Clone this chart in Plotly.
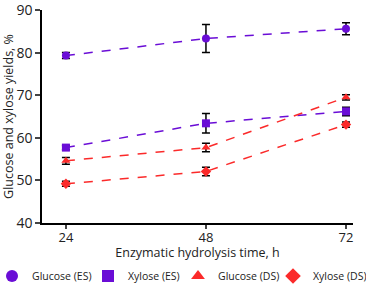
import plotly.graph_objects as go

time_h = [24, 48, 72]
glucose_es = [79.3, 83.3, 85.6]
glucose_es_err = [0.7, 3.3, 1.4]
xylose_es = [57.7, 63.4, 66.2]
xylose_es_err = [0.5, 2.3, 1.0]
glucose_ds = [54.6, 57.7, 69.5]
glucose_ds_err = [0.8, 1.0, 0.6]
xylose_ds = [49.2, 52.1, 63.1]
xylose_ds_err = [0.6, 1.0, 0.6]
y_ticks = [40, 50, 60, 70, 80, 90]

PURPLE = "#6a0dd6"
RED = "#fb2a2a"

series = [
    ("Glucose (ES)", glucose_es, glucose_es_err, PURPLE, "circle", 12),
    ("Xylose (ES)", xylose_es, xylose_es_err, PURPLE, "square", 108),
    ("Glucose (DS)", glucose_ds, glucose_ds_err, RED, "triangle-up", 198),
    ("Xylose (DS)", xylose_ds, xylose_ds_err, RED, "diamond", 293),
]

W, H = 366, 288
ML, MR = 42, 13
PW = W - ML - MR
fig = go.Figure()
for name, vals, errs, col, sym, _ in series:
    fig.add_trace(go.Scatter(
        x=time_h, y=vals, mode="lines+markers", name=name, showlegend=False,
        line=dict(color=col, width=1.5, dash="dash"),
        marker=dict(symbol=sym, size=8, color=col),
        error_y=dict(type="data", array=errs, visible=True, color="black",
                     thickness=1.5, width=4),
    ))

legend_layout = {}
for i, (name, vals, errs, col, sym, lx) in enumerate(series):
    key = "legend" if i == 0 else f"legend{i+1}"
    fig.add_trace(go.Scatter(
        x=[None], y=[None], mode="markers", name=name, showlegend=True,
        legend=key,
        marker=dict(symbol=sym, size=12, color=col),
    ))
    legend_layout[key] = dict(
        orientation="h", xref="paper", yref="container",
        x=(lx - 20 - ML) / PW, xanchor="left", y=(H - 276) / H, yanchor="middle",
        font=dict(size=10.5), itemsizing="trace", bgcolor="rgba(0,0,0,0)",
    )

fig.update_layout(
    width=W, height=H,
    margin=dict(l=ML, r=MR, t=10, b=65, autoexpand=False),
    paper_bgcolor="white", plot_bgcolor="white",
    font=dict(family="Open Sans", color="#222"),
    showlegend=True,
    xaxis=dict(range=[19.9, 73.2], tickvals=time_h, ticks="outside", ticklen=4,
               tickwidth=1.5, showline=True, linecolor="black", linewidth=1.5,
               showgrid=False, zeroline=False, tickfont=dict(size=13), automargin=True,
               ticklabeloverflow="allow", ticklabelstandoff=-2,
               title=dict(text="Enzymatic hydrolysis time, h", font=dict(size=12.5), standoff=5)),
    yaxis=dict(range=[40, 90], tickvals=y_ticks, ticks="outside", ticklen=5,
               tickwidth=1.5, showline=True, linecolor="black", linewidth=1.5,
               showgrid=False, zeroline=False, tickfont=dict(size=14), automargin=True,
               ticklabeloverflow="allow",
               title=dict(text="Glucose and xylose yields, %", font=dict(size=12.5), standoff=5)),
    **legend_layout,
)

fig.write_html("out.html", config={"displayModeBar": False},
               post_script="document.body.style.margin='0';")
